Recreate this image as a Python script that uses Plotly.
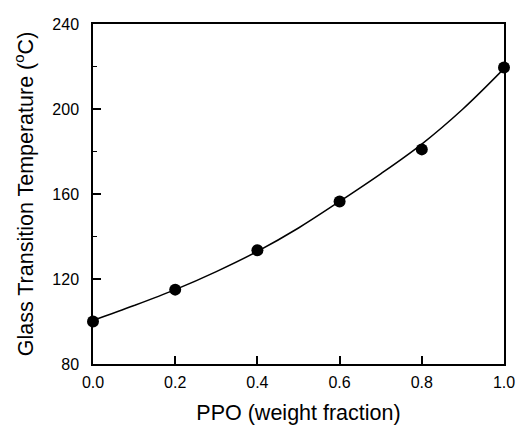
import plotly.graph_objects as go

# measured data
ppo = [0.0, 0.2, 0.4, 0.6, 0.8, 1.0]
tg = [100, 115, 133.5, 156.5, 181, 219.5]

# fitted curve
curve_x = [0.0, 0.1, 0.2, 0.3, 0.4, 0.5, 0.6, 0.7, 0.8, 0.9, 1.0]
curve_y = [100.5, 107.5, 115, 123.5, 133, 144, 156.5, 169.5, 183.5, 200, 219]

x_ticks = [0.0, 0.2, 0.4, 0.6, 0.8, 1.0]
x_ticklabels = ["0.0", "0.2", "0.4", "0.6", "0.8", "1.0"]
y_ticks = [80, 120, 160, 200, 240]

fig = go.Figure()
fig.add_trace(go.Scatter(x=curve_x, y=curve_y, mode="lines",
                         line=dict(color="black", width=1.5, shape="spline"),
                         showlegend=False, hoverinfo="skip"))
fig.add_trace(go.Scatter(x=ppo, y=tg, mode="markers",
                         marker=dict(color="black", size=12),
                         showlegend=False, cliponaxis=False))

font = "Liberation Sans, Arial, sans-serif"
fig.update_layout(
    width=516, height=426,
    margin=dict(l=93, r=12, t=24, b=62),
    paper_bgcolor="white", plot_bgcolor="white",
    font=dict(family=font, color="black"),
    xaxis=dict(range=[0, 1.0], tickvals=x_ticks, ticktext=x_ticklabels,
               ticks="inside", ticklen=8, tickwidth=1.5, tickcolor="black",
               showline=True, linewidth=1.5, linecolor="black", mirror=True,
               showgrid=False, zeroline=False, automargin=False,
               tickfont=dict(size=16, family=font),
               ticklabelstandoff=3,
               title=dict(text="PPO (weight fraction)", font=dict(size=21.5, family=font), standoff=15)),
    yaxis=dict(range=[80, 240], tickvals=y_ticks,
               ticks="inside", ticklen=8, tickwidth=1.5, tickcolor="black",
               minor=dict(ticks="inside", ticklen=4, dtick=20, tickwidth=1, tickcolor="black"),
               showline=True, linewidth=1.5, linecolor="black", mirror=True,
               showgrid=False, zeroline=False, automargin=False,
               tickfont=dict(size=16, family=font),
               ticklabelstandoff=9,
               title=dict(text="Glass Transition Temperature (<sup>o</sup>C)", font=dict(size=21.5, family=font), standoff=13)),
)

fig.write_html("out.html")
